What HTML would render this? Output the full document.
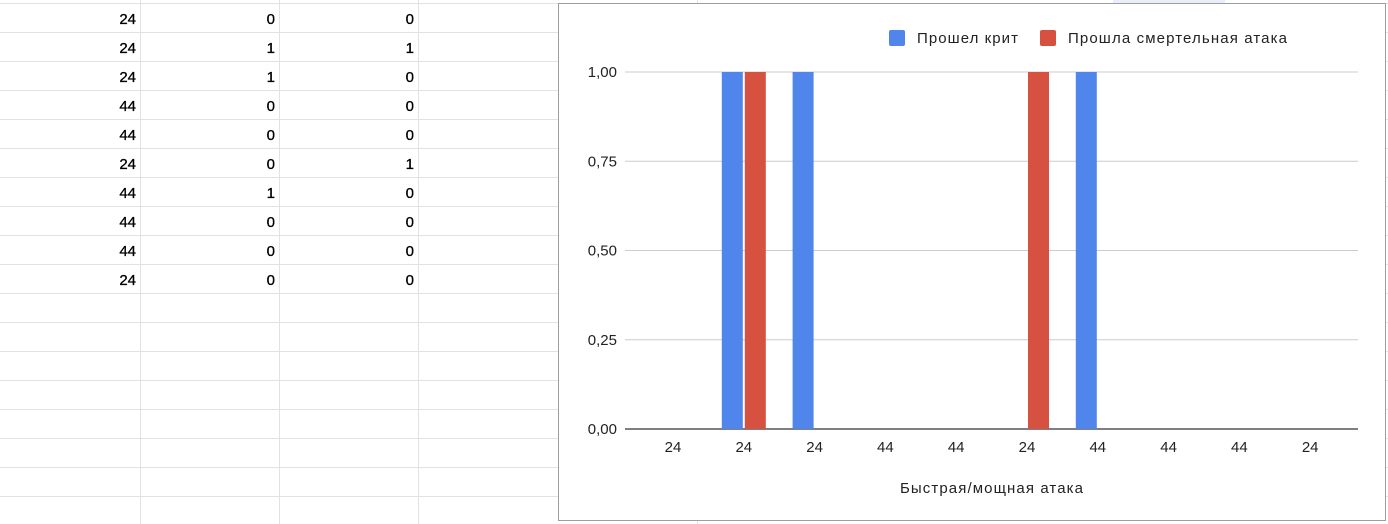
<!DOCTYPE html>
<html><head><meta charset="utf-8">
<style>
body{margin:0;width:1388px;height:524px;overflow:hidden;background:#fff;font-family:"Liberation Sans","Noto Sans CJK SC",sans-serif;}
svg{position:absolute;left:0;top:0;}
</style></head>
<body>
<svg id="s" width="1388" height="524" xmlns="http://www.w3.org/2000/svg">
<g id="grid"></g>
<g id="cells" font-size="15" fill="#000" text-anchor="end" stroke="#000" stroke-width="0.3"></g>
<rect x="1113" y="0" width="112" height="3" fill="#e8eefc"/>
<rect x="558.5" y="3.5" width="827" height="517" fill="#fff" stroke="#9e9e9e"/>
<g id="chart"></g>
</svg>
<script>
const categories=["24","24","24","44","44","24","44","44","44","24"];
const critValues=[0,1,1,0,0,0,1,0,0,0];
const deathValues=[0,1,0,0,0,1,0,0,0,0];
const yTicks=[0,0.25,0.5,0.75,1];
const yTickLabels=["0,00","0,25","0,50","0,75","1,00"];
const colA=["24","24","24","44","44","24","44","44","44","24"];
const colB=["0","1","1","0","0","0","1","0","0","0"];
const colC=["0","1","0","0","0","1","0","0","0","0"];

const NS="http://www.w3.org/2000/svg";
function mk(tag,attrs,parent,text){const e=document.createElementNS(NS,tag);for(const k in attrs)e.setAttribute(k,attrs[k]);if(text!==undefined)e.textContent=text;parent.appendChild(e);return e;}

const grid=document.getElementById('grid');
for(let i=0;i<19;i++){const y=3.5+i*29;const l=mk('line',{x1:0,x2:1388,y1:y,y2:y,stroke:'#e2e2e2'},grid);

}
[140.5,279.5,418.5,697.5].forEach(x=>{const l=mk('line',{x1:x,x2:x,y1:0,y2:524,stroke:'#e2e2e2'},grid);

});
const cells=document.getElementById('cells');
for(let i=0;i<colA.length;i++){
  const y=24+i*29;
  [[colA,136],[colB,275],[colC,414]].forEach(([c,x])=>{const t=mk('text',{x:x,y:y},cells,c[i]);
  
  });
}

const ch=document.getElementById('chart');
const plotL=637.6,step=70.8,axL=625,axR=1358;
const y0=429,y1=72;
const yS=v=>y0-(y0-y1)*v;
const xC=i=>plotL+step*(i+0.5);
yTicks.forEach((v,i)=>{
  const g=mk('line',{x1:axL,x2:axR,y1:yS(v),y2:yS(v),stroke:i===0?'#333':'#cccccc','stroke-width':i===0?1.3:1},ch);
  
  
  const t=mk('text',{x:617,y:yS(v)+5,'font-size':15,fill:'#222','text-anchor':'end'},ch,yTickLabels[i]);
  
  
});
const bw=21,gap=2;
categories.forEach((c,i)=>{
  const cx=xC(i);
  if(critValues[i]>0){const r=mk('rect',{x:cx-gap/2-bw,y:yS(critValues[i]),width:bw,height:y0-yS(critValues[i]),fill:'#5085ec'},ch);
    
    }
  if(deathValues[i]>0){const r=mk('rect',{x:cx+gap/2,y:yS(deathValues[i]),width:bw,height:y0-yS(deathValues[i]),fill:'#d75140'},ch);
    
    }
  const t=mk('text',{x:cx,y:452,'font-size':15,fill:'#222','text-anchor':'middle'},ch,c);
  
  
});
const at=mk('text',{x:900,y:493,'font-size':15,fill:'#222',textLength:183,lengthAdjust:'spacing'},ch,'Быстрая/мощная атака');


const l1=mk('rect',{x:889,y:30,width:16,height:16,rx:2,fill:'#5085ec'},ch);


const l1t=mk('text',{x:917,y:43,'font-size':15,fill:'#222',textLength:101,lengthAdjust:'spacing'},ch,'Прошел крит');


const l2=mk('rect',{x:1040,y:30,width:16,height:16,rx:2,fill:'#d75140'},ch);


const l2t=mk('text',{x:1068,y:43,'font-size':15,fill:'#222',textLength:219,lengthAdjust:'spacing'},ch,'Прошла смертельная атака');


</script>
</body></html>
